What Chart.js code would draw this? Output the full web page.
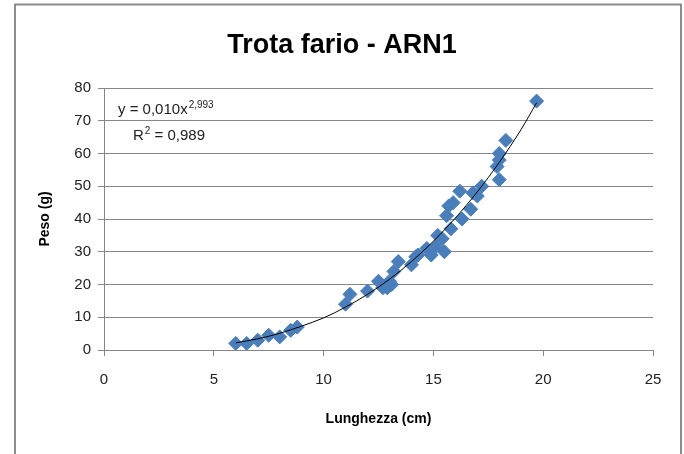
<!DOCTYPE html>
<html>
<head>
<meta charset="utf-8">
<script src="https://cdn.jsdelivr.net/npm/chart.js@4/dist/chart.umd.min.js"></script>
<style>
  html, body { margin: 0; padding: 0; background: #fff; }
  #wrap { width: 684px; height: 454px; position: relative; }
</style>
</head>
<body>
<div id="wrap"><canvas id="c" width="684" height="454"></canvas></div>
<script>
// Data
const lengthCm = [6.0,6.5,7.0,7.5,8.0,8.5,8.8,11.0,11.2,12.0,12.5,12.7,12.9,13.0,13.1,13.2,13.4,14.0,14.2,14.3,14.7,14.9,15.1,15.2,15.4,15.5,15.6,15.7,15.8,15.9,16.2,16.3,16.7,16.8,17.0,17.2,17.9,18.0,18.0,18.0,18.3,19.7];
const weightG  = [2,2,3,4.5,4,6,7,14,17,18,21,19,19,21,20,24,27,26,28.5,29,31,29,31.5,35,34,30,41,44,37,45,48.5,40,43,48,47,50,56,52,58,60,64,76];
// Trendline (power fit y = 0,010x^2,993)
const trendX = [6,7,8,9,10,11,12,13,14,15,16,17,18,19,19.7];
const trendY = [2.2,3.4,5.1,7.3,9.8,13.1,17.0,21.6,27.0,33.2,40.3,48.3,57.3,67.4,75.5];
const xTicks = [0,5,10,15,20,25];
const yTicks = [0,10,20,30,40,50,60,70,80];
const titleText = 'Trota fario - ARN1';
const xTitle = 'Lunghezza (cm)';
const yTitle = 'Peso (g)';
const eqMain = 'y = 0,010x';
const eqExp = '2,993';
const r2Main = 'R';
const r2Sup = '2';
const r2Rest = ' = 0,989';

const FONT = '"Liberation Sans Narrow", "Liberation Sans", "DejaVu Sans Condensed", sans-serif';

const points = lengthCm.map((x, i) => ({x, y: weightG[i]}));
const trend = trendX.map((x, i) => ({x, y: trendY[i]}));

const framePlugin = {
  id: 'frame',
  beforeDraw(chart) {
    const ctx = chart.ctx;
    ctx.save();
    ctx.fillStyle = '#ffffff';
    ctx.fillRect(0, 0, chart.width, chart.height);
    ctx.strokeStyle = '#8c8c8c';
    ctx.lineWidth = 2;
    ctx.beginPath();
    ctx.moveTo(15, 470);
    ctx.lineTo(15, 4.5);
    ctx.lineTo(681, 4.5);
    ctx.lineTo(681, 470);
    ctx.stroke();
    ctx.restore();
  },
  afterDraw(chart) {
    const ctx = chart.ctx;
    const a = chart.chartArea;
    ctx.save();
    ctx.fillStyle = '#222';
    ctx.textBaseline = 'alphabetic';
    ctx.textAlign = 'left';
    // equation
    let x = a.left + 14, y = a.top + 26;
    ctx.font = '15px ' + FONT;
    ctx.fillText(eqMain, x, y);
    let w = ctx.measureText(eqMain).width;
    ctx.font = '10px ' + FONT;
    ctx.fillText(eqExp, x + w + 1, y - 6);
    // R^2
    x = a.left + 29; y = a.top + 52;
    ctx.font = '15px ' + FONT;
    ctx.fillText(r2Main, x, y);
    w = ctx.measureText(r2Main).width;
    ctx.font = '10px ' + FONT;
    ctx.fillText(r2Sup, x + w + 1, y - 6);
    const w2 = ctx.measureText(r2Sup).width;
    ctx.font = '15px ' + FONT;
    ctx.fillText(r2Rest, x + w + w2 + 1, y);
    ctx.restore();
  }
};

new Chart(document.getElementById('c'), {
  type: 'scatter',
  data: {
    datasets: [
      {
        label: 'trend',
        data: trend,
        showLine: true,
        borderColor: '#000000',
        borderWidth: 1,
        pointRadius: 0,
        cubicInterpolationMode: 'monotone',
        fill: false
      },
      {
        label: 'Peso',
        data: points,
        pointStyle: 'rectRot',
        pointRadius: 7,
        pointBackgroundColor: '#4a7ebb',
        pointBorderColor: '#4a7ebb',
        pointBorderWidth: 1,
        showLine: false
      }
    ]
  },
  options: {
    responsive: false,
    animation: false,
    devicePixelRatio: 1,
    layout: { padding: { left: 31, right: 31, top: 0, bottom: 0 } },
    plugins: {
      legend: { display: false },
      tooltip: { enabled: false },
      title: {
        display: true,
        text: titleText,
        color: '#000',
        font: { family: FONT, size: 27, weight: 'bold', lineHeight: 1.2 },
        padding: { top: 29, bottom: 26.6 }
      }
    },
    scales: {
      x: {
        type: 'linear',
        min: 0, max: 25,
        afterBuildTicks(s) { s.ticks = xTicks.map(v => ({value: v})); },
        afterFit(s) { s.height = 104; },
        grid: { drawOnChartArea: false, drawTicks: true, tickLength: 6, color: '#868686' },
        border: { color: '#868686', width: 1 },
        ticks: { color: '#222', padding: 15, font: { family: FONT, size: 15 } },
        title: {
          display: true, text: xTitle, color: '#000',
          font: { family: FONT, size: 14, weight: 'bold', lineHeight: 1.2 },
          padding: { top: 0, bottom: 26 }
        }
      },
      y: {
        type: 'linear',
        min: 0, max: 80,
        afterBuildTicks(s) { s.ticks = yTicks.map(v => ({value: v})); },
        afterFit(s) { s.width = 73; },
        grid: { drawOnChartArea: true, drawTicks: true, tickLength: 6, color: '#868686' },
        border: { color: '#868686', width: 1 },
        ticks: { color: '#222', padding: 7, font: { family: FONT, size: 15 } },
        title: {
          display: true, text: yTitle, color: '#000',
          font: { family: FONT, size: 14, weight: 'bold', lineHeight: 1.2 },
          padding: { top: 6, bottom: 0 }
        }
      }
    }
  },
  plugins: [framePlugin]
});
</script>
</body>
</html>
